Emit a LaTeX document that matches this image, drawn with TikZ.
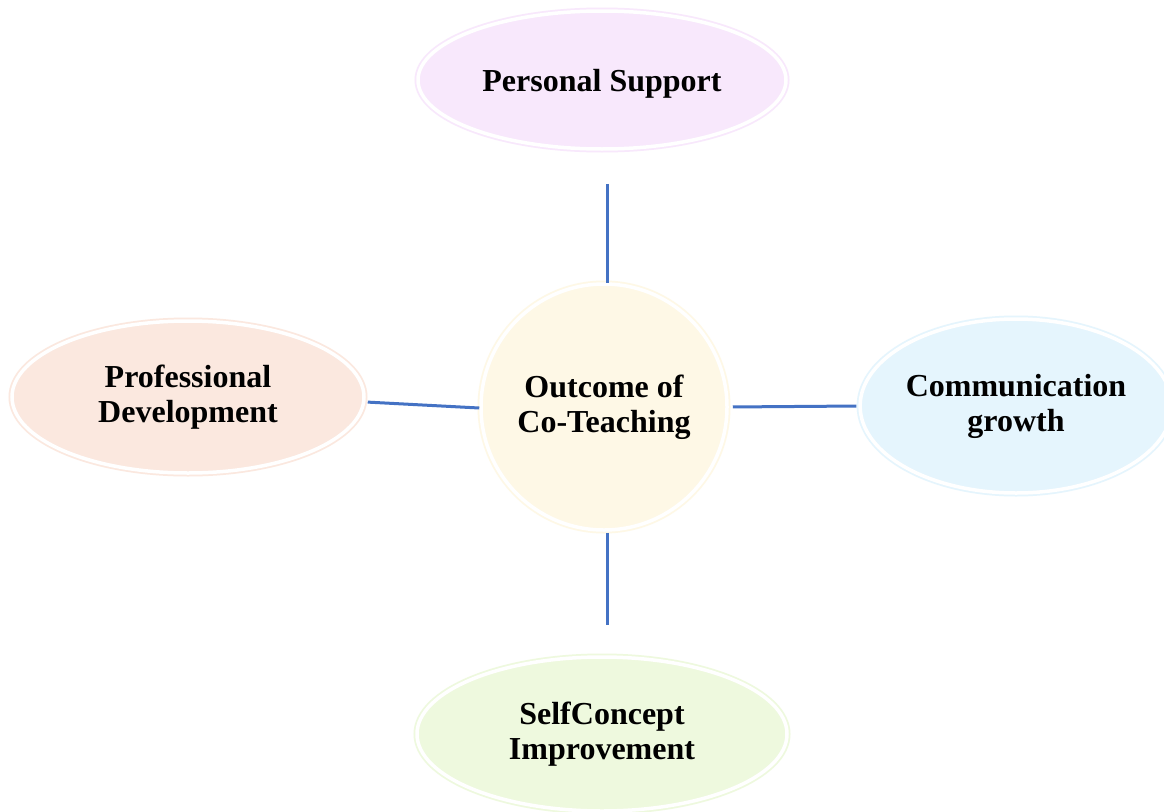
\documentclass[tikz,border=0pt]{standalone}
\usepackage{fontspec}
\setmainfont{Liberation Serif}
\usetikzlibrary{shapes.geometric}
\definecolor{linkblue}{HTML}{4472C4}
\definecolor{lavender}{HTML}{F8E8FC}
\definecolor{cream}{HTML}{FEF8E6}
\definecolor{peach}{HTML}{FBE8DF}
\definecolor{skyblue}{HTML}{E5F5FD}
\definecolor{mint}{HTML}{EEF9DE}
\tikzset{
  bubble/.style={ellipse, fill=#1, draw=white, line width=3.5pt,
    preaction={draw=#1, line width=7pt},
    align=center, inner sep=0pt,
    font=\fontsize{32}{35}\selectfont\bfseries},
  link/.style={draw=linkblue, line width=3pt}
}
\begin{document}
\begin{tikzpicture}[x=1pt,y=-1pt]
\useasboundingbox (0,0) rectangle (1164,811);
\fill[white] (0,0) rectangle (1164,811);

\node[bubble=lavender, minimum width=368pt, minimum height=138pt] (ps) at (602,80) {\rule{0pt}{29pt}Personal Support};
\node[bubble=cream, circle, minimum size=246pt] (hub) at (604,407) {Outcome of\\Co-Teaching};
\node[bubble=peach, minimum width=352pt, minimum height=152pt] (pd) at (188,397) {Professional\\Development};
\node[bubble=skyblue, minimum width=306pt, minimum height=174pt] (cg) at (1016,406) {Communication\\growth};
\node[bubble=mint, minimum width=370pt, minimum height=154pt] (sc) at (602,734) {SelfConcept\\Improvement};

\draw[link, shorten <=33pt, shorten >=-1pt] (ps.south -| hub.north) ++(3,0) coordinate (ptop) -- (ptop |- hub.north);
\draw[link, shorten <=2pt, shorten >=0pt] ([yshift=-5pt]pd.east) -- ([yshift=-1pt]hub.west);
\draw[link, shorten <=4pt, shorten >=2pt] (hub.east) -- (cg.west);
\draw[link, shorten <=1pt, shorten >=30pt] (hub.south) ++(3,0) coordinate (pbot) -- (pbot |- sc.north);
\end{tikzpicture}
\end{document}
